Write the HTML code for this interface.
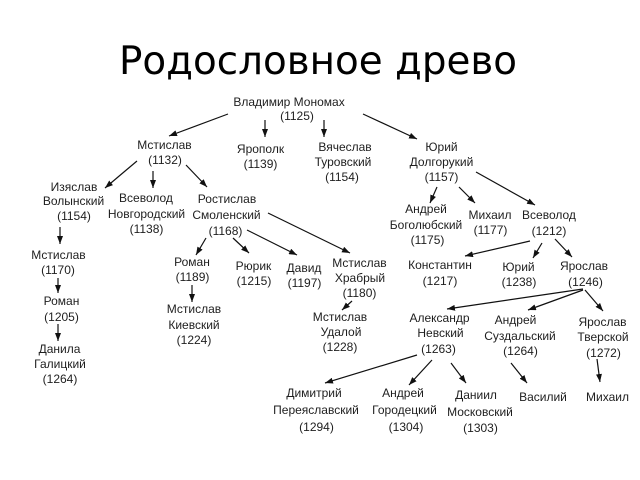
<!DOCTYPE html>
<html><head><meta charset="utf-8"><style>
html,body{margin:0;padding:0;background:#fff;}
svg{display:block;}
.t{font-family:"Liberation Sans","Noto Sans CJK SC",sans-serif;font-size:12px;fill:#1e1e1e;text-anchor:middle;}
.h{font-family:"DejaVu Sans","Liberation Sans",sans-serif;font-size:39px;fill:#000;}
line{stroke:#111;stroke-width:1.2;marker-end:url(#a);}
</style></head><body>
<svg width="640" height="480" viewBox="0 0 640 480" xmlns="http://www.w3.org/2000/svg">
<defs><marker id="a" viewBox="0 0 8 6" refX="8" refY="3" markerWidth="8" markerHeight="6" markerUnits="userSpaceOnUse" orient="auto"><path d="M0,0 L8,3 L0,6 z" fill="#111"/></marker></defs>
<rect width="640" height="480" fill="#fff"/>
<text class="h" x="119" y="74" textLength="398" lengthAdjust="spacingAndGlyphs">Родословное древо</text>

<g>
<line x1="228" y1="114" x2="169" y2="136"/>
<line x1="265" y1="120" x2="265" y2="137"/>
<line x1="324" y1="120" x2="324" y2="137"/>
<line x1="363" y1="114" x2="417" y2="139"/>
<line x1="137" y1="161" x2="105" y2="188"/>
<line x1="153" y1="171" x2="153" y2="188"/>
<line x1="186" y1="165" x2="207" y2="187"/>
<line x1="60" y1="227" x2="60" y2="244"/>
<line x1="58" y1="278" x2="58" y2="293"/>
<line x1="58" y1="324" x2="58" y2="341"/>
<line x1="268" y1="213" x2="350" y2="253"/>
<line x1="247" y1="230" x2="297" y2="255"/>
<line x1="233" y1="238" x2="249" y2="253"/>
<line x1="206" y1="238" x2="196" y2="255"/>
<line x1="192" y1="285" x2="192" y2="302"/>
<line x1="352" y1="301" x2="342" y2="310"/>
<line x1="437" y1="187" x2="430" y2="203"/>
<line x1="459" y1="187" x2="475" y2="203"/>
<line x1="476" y1="172" x2="535" y2="205"/>
<line x1="530" y1="241" x2="465" y2="256"/>
<line x1="542" y1="243" x2="533" y2="258"/>
<line x1="555" y1="239" x2="572" y2="257"/>
<line x1="583" y1="289" x2="447" y2="309"/>
<line x1="583" y1="290" x2="528" y2="310"/>
<line x1="585" y1="290" x2="603" y2="311"/>
<line x1="417" y1="355" x2="325" y2="383"/>
<line x1="432" y1="360" x2="409" y2="385"/>
<line x1="451" y1="363" x2="466" y2="383"/>
<line x1="511" y1="363" x2="527" y2="383"/>
<line x1="597" y1="359" x2="600" y2="382"/>
</g>

<g>
<text class="t" x="289" y="106">Владимир Мономах</text>
<text class="t" x="297" y="120">(1125)</text>

<text class="t" x="164.5" y="149">Мстислав</text>
<text class="t" x="165" y="164">(1132)</text>

<text class="t" x="260.5" y="153">Ярополк</text>
<text class="t" x="260.5" y="168">(1139)</text>

<text class="t" x="345" y="151">Вячеслав</text>
<text class="t" x="343" y="166">Туровский</text>
<text class="t" x="342" y="181">(1154)</text>

<text class="t" x="441.5" y="151">Юрий</text>
<text class="t" x="441.5" y="166">Долгорукий</text>
<text class="t" x="441.5" y="181">(1157)</text>

<text class="t" x="74" y="191">Изяслав</text>
<text class="t" x="73.5" y="205">Волынский</text>
<text class="t" x="74" y="220">(1154)</text>

<text class="t" x="146" y="202">Всеволод</text>
<text class="t" x="146.5" y="218">Новгородский</text>
<text class="t" x="146.5" y="233">(1138)</text>

<text class="t" x="227" y="203">Ростислав</text>
<text class="t" x="226.5" y="219">Смоленский</text>
<text class="t" x="225.5" y="235">(1168)</text>

<text class="t" x="426" y="213">Андрей</text>
<text class="t" x="426" y="229">Боголюбский</text>
<text class="t" x="427.5" y="244">(1175)</text>

<text class="t" x="490" y="219">Михаил</text>
<text class="t" x="490.5" y="234">(1177)</text>

<text class="t" x="549" y="219">Всеволод</text>
<text class="t" x="549" y="235">(1212)</text>

<text class="t" x="58.5" y="259">Мстислав</text>
<text class="t" x="58" y="274">(1170)</text>

<text class="t" x="61.5" y="305">Роман</text>
<text class="t" x="61.5" y="321">(1205)</text>

<text class="t" x="59.5" y="353">Данила</text>
<text class="t" x="60" y="368">Галицкий</text>
<text class="t" x="60" y="383">(1264)</text>

<text class="t" x="192" y="266">Роман</text>
<text class="t" x="192.5" y="281">(1189)</text>

<text class="t" x="253.5" y="270">Рюрик</text>
<text class="t" x="254" y="285">(1215)</text>

<text class="t" x="304" y="272">Давид</text>
<text class="t" x="304.5" y="287">(1197)</text>

<text class="t" x="359.5" y="267">Мстислав</text>
<text class="t" x="360" y="282">Храбрый</text>
<text class="t" x="359.5" y="297">(1180)</text>

<text class="t" x="194" y="313">Мстислав</text>
<text class="t" x="194" y="329">Киевский</text>
<text class="t" x="194" y="344">(1224)</text>

<text class="t" x="340" y="321">Мстислав</text>
<text class="t" x="341" y="336">Удалой</text>
<text class="t" x="340" y="351">(1228)</text>

<text class="t" x="440" y="269">Константин</text>
<text class="t" x="440" y="285">(1217)</text>

<text class="t" x="518.5" y="271">Юрий</text>
<text class="t" x="519" y="286">(1238)</text>

<text class="t" x="584" y="270">Ярослав</text>
<text class="t" x="585.5" y="286">(1246)</text>

<text class="t" x="439.5" y="322">Александр</text>
<text class="t" x="440.5" y="337">Невский</text>
<text class="t" x="438.5" y="353">(1263)</text>

<text class="t" x="515.5" y="324">Андрей</text>
<text class="t" x="520" y="340">Суздальский</text>
<text class="t" x="520.5" y="355">(1264)</text>

<text class="t" x="602.5" y="326">Ярослав</text>
<text class="t" x="603" y="341">Тверской</text>
<text class="t" x="603.5" y="357">(1272)</text>

<text class="t" x="314" y="397">Димитрий</text>
<text class="t" x="316" y="414">Переяславский</text>
<text class="t" x="316.5" y="431">(1294)</text>

<text class="t" x="403" y="397">Андрей</text>
<text class="t" x="404.5" y="414">Городецкий</text>
<text class="t" x="406" y="431">(1304)</text>

<text class="t" x="476" y="399">Даниил</text>
<text class="t" x="480" y="416">Московский</text>
<text class="t" x="480.5" y="432">(1303)</text>

<text class="t" x="543" y="401">Василий</text>
<text class="t" x="607.5" y="401">Михаил</text>
</g>
</svg>
</body></html>
